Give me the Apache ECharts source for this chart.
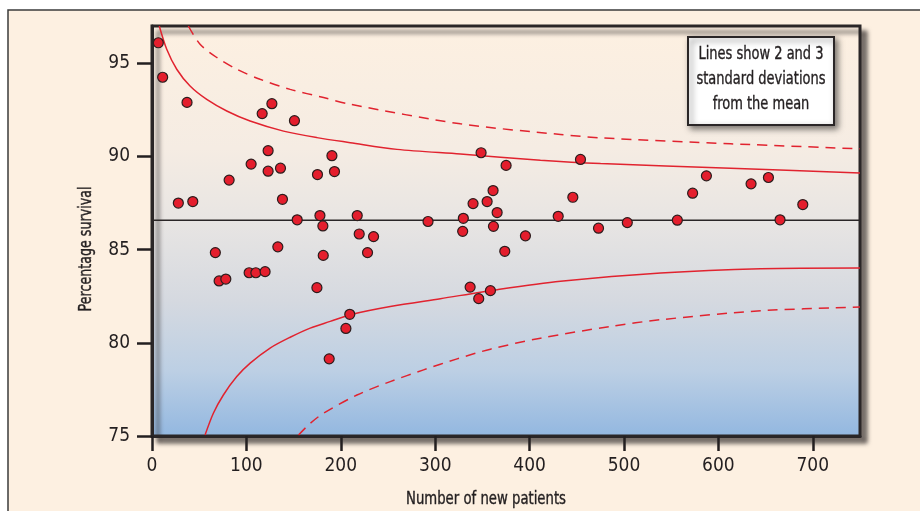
<!DOCTYPE html>
<html>
<head>
<meta charset="utf-8">
<script src="https://cdn.jsdelivr.net/npm/echarts@6/dist/echarts.min.js"></script>
<style>
html,body{margin:0;padding:0;background:#ffffff;}
#chart{width:920px;height:511px;}
</style>
</head>
<body>
<div id="chart"></div>
<script>
// ---- data ----
var patientsX = [6.7, 11.3, 37.1, 27.9, 43.2, 67.1, 71.1, 78.2, 81.7, 102.9, 110, 119.8, 105, 123, 123, 136.1, 116.7, 127, 138.2, 133.3, 150.9, 153.8, 174.7, 175.3, 177.9, 181, 181.4, 190.6, 193.3, 187.7, 205.4, 209.5, 217.4, 219.5, 228.3, 234.7, 292.4, 329.1, 329.8, 337, 340.1, 346.1, 348.6, 355, 358.5, 361.3, 361.7, 365.6, 373.7, 375.1, 395.6, 430.3, 445.8, 453.9, 473, 503.5, 556.5, 572.7, 587.3, 634.6, 653, 665.3, 689.4];
var survivalY = [96.1, 94.25, 92.9, 87.5, 87.58, 84.84, 83.32, 83.42, 88.73, 83.76, 83.76, 83.82, 89.59, 90.31, 89.21, 89.37, 92.3, 92.83, 87.7, 85.15, 91.92, 86.6, 82.96, 89.03, 86.83, 86.27, 84.69, 90.04, 89.19, 79.14, 80.77, 81.53, 86.83, 85.84, 84.84, 85.7, 86.51, 85.98, 86.68, 82.99, 87.47, 82.37, 90.2, 87.58, 82.8, 88.17, 86.25, 86.99, 84.91, 89.52, 85.74, 86.79, 87.81, 89.84, 86.15, 86.45, 86.58, 88.03, 88.96, 88.53, 88.87, 86.6, 87.42];
var meanSurvival = 86.58;

var upper2X = [7.7, 15.6, 26.2, 40.3, 58, 79.2, 103.9, 139.3, 174.7, 210, 259.5, 326.7, 411.5, 475.2, 613, 750];
var upper2Y = [97.0, 95.75, 94.68, 93.78, 93.06, 92.44, 91.9, 91.36, 91.01, 90.74, 90.38, 90.13, 89.8, 89.62, 89.37, 89.11];
var upper3X = [38.5, 50.9, 68.6, 89.8, 114.5, 146.4, 181.7, 210, 326.7, 432.7, 475.2, 613, 750];
var upper3Y = [97.0, 96.02, 95.31, 94.68, 94.14, 93.6, 93.16, 92.8, 91.75, 91.18, 91.0, 90.68, 90.41];
var lower2X = [56.2, 65, 75.6, 89.8, 104, 125.1, 146.4, 167.6, 188.8, 210, 252.4, 305.5, 365.6, 432.7, 538.8, 644.8, 750];
var lower2Y = [75.05, 76.22, 77.2, 78.19, 78.91, 79.72, 80.3, 80.79, 81.15, 81.51, 81.95, 82.37, 82.85, 83.3, 83.75, 83.98, 84.02];
var lower3X = [155.2, 167.6, 181.7, 217.1, 252.4, 287.7, 323.2, 358.5, 411.5, 485.7, 538.8, 644.8, 750];
var lower3Y = [75.05, 75.68, 76.22, 77.2, 77.92, 78.55, 79.14, 79.66, 80.25, 80.88, 81.24, 81.72, 81.92];

var xTicks = [0, 100, 200, 300, 400, 500, 600, 700];
var yTicks = [75, 80, 85, 90, 95];
var xTitle = 'Number of new patients';
var yTitle = 'Percentage survival';
var noteLines = ['Lines show 2 and 3', 'standard deviations', 'from the mean'];

function pairs(xs, ys) { return xs.map(function (x, i) { return [x, ys[i]]; }); }

var FAMILY = "'DejaVu Sans'";
var INK = '#231f20';
var RED = '#e1232f';

// horizontal squeeze so the text width matches the reference's condensed face
var mctx = document.createElement('canvas').getContext('2d');
function squeeze(text, font, target) {
  mctx.font = font;
  return target / mctx.measureText(text).width;
}
var titleFont = '17px ' + FAMILY;
var noteFont = '18px ' + FAMILY;
var xTitleScale = squeeze(xTitle, titleFont, 160);
var yTitleScale = squeeze(yTitle, titleFont, 125);
var noteScale = squeeze(noteLines[1], noteFont, 129);

var chart = echarts.init(document.getElementById('chart'), null, {renderer: 'canvas'});
var curveBase = {type: 'line', smooth: 0.3, symbol: 'none', silent: true, z: 3, clip: true};

var tickLabel = {color: INK, fontFamily: FAMILY, fontWeight: 'condensed', fontSize: 19};

var option = {
  backgroundColor: '#ffffff',
  animation: false,
  grid: {
    left: 152, top: 26, right: 60, bottom: 75,
    show: true,
    borderColor: '#2a2627', borderWidth: 3,
    backgroundColor: new echarts.graphic.LinearGradient(0, 0, 0, 1, [
      {offset: 0, color: '#fdf0e1'},
      {offset: 0.30, color: '#f5ece3'},
      {offset: 0.475, color: '#e8e5e3'},
      {offset: 0.67, color: '#d5d9e0'},
      {offset: 0.84, color: '#bccfe4'},
      {offset: 1, color: '#92b7e0'}
    ]),
    shadowColor: 'rgba(40,35,35,0.6)', shadowBlur: 4, shadowOffsetX: 6, shadowOffsetY: 6
  },
  xAxis: {
    type: 'value', min: 0, max: 750,
    splitLine: {show: false},
    axisLine: {show: true, lineStyle: {color: '#2a2627', width: 3}},
    axisTick: {show: true, length: 15, lineStyle: {color: INK, width: 2.5}, customValues: xTicks},
    axisLabel: Object.assign({margin: 21, customValues: xTicks}, tickLabel)
  },
  yAxis: {
    type: 'value', min: 75, max: 97,
    splitLine: {show: false},
    axisLine: {show: true, lineStyle: {color: '#2a2627', width: 3}},
    axisTick: {show: true, length: 15, lineStyle: {color: INK, width: 2.5}, customValues: yTicks},
    axisLabel: Object.assign({margin: 22, customValues: yTicks}, tickLabel)
  },
  graphic: [
    {type: 'rect', z: -10, silent: true, shape: {x: 8, y: 10, width: 1000, height: 600},
     style: {fill: '#fdf0e1', stroke: '#3b3b3b', lineWidth: 1.5}},
    {type: 'text', x: 87, y: 249, rotation: Math.PI / 2, scaleX: yTitleScale, silent: true,
     style: {text: yTitle, fill: INK, stroke: INK, lineWidth: 0.4, font: titleFont, align: 'center', verticalAlign: 'middle'}},
    {type: 'text', x: 486, y: 500, scaleX: xTitleScale, silent: true,
     style: {text: xTitle, fill: INK, stroke: INK, lineWidth: 0.4, font: titleFont, align: 'center', verticalAlign: 'middle'}},
    {type: 'rect', z: 100, silent: true, shape: {x: 688, y: 37, width: 146, height: 88},
     style: {fill: '#ffffff', stroke: '#2a2627', lineWidth: 2,
             shadowColor: 'rgba(0,0,0,0.5)', shadowBlur: 6, shadowOffsetX: 3, shadowOffsetY: 3}},
    {type: 'text', z: 101, x: 761, y: 79, scaleX: noteScale, silent: true,
     style: {text: noteLines.join('\n'), fill: INK, stroke: INK, lineWidth: 0.4, font: noteFont, lineHeight: 25, align: 'center', verticalAlign: 'middle'}}
  ],
  series: [
    Object.assign({}, curveBase, {name: 'upper2', data: pairs(upper2X, upper2Y), lineStyle: {color: RED, width: 1.5}}),
    Object.assign({}, curveBase, {name: 'lower2', data: pairs(lower2X, lower2Y), lineStyle: {color: RED, width: 1.5}}),
    Object.assign({}, curveBase, {name: 'upper3', data: pairs(upper3X, upper3Y), lineStyle: {color: RED, width: 1.5, type: [10, 7]}}),
    Object.assign({}, curveBase, {name: 'lower3', data: pairs(lower3X, lower3Y), lineStyle: {color: RED, width: 1.5, type: [10, 7]}}),
    {
      type: 'line', name: 'mean', symbol: 'none', silent: true, z: 2,
      data: [[0, meanSurvival], [750, meanSurvival]],
      lineStyle: {color: '#2a2627', width: 1.5}
    },
    {
      type: 'scatter', name: 'units', z: 5,
      data: pairs(patientsX, survivalY),
      symbol: 'circle', symbolSize: 10,
      itemStyle: {color: '#e41e2d', borderColor: '#2b1d1d', borderWidth: 1.2, opacity: 1}
    }
  ]
};
chart.setOption(option);
</script>
</body>
</html>
